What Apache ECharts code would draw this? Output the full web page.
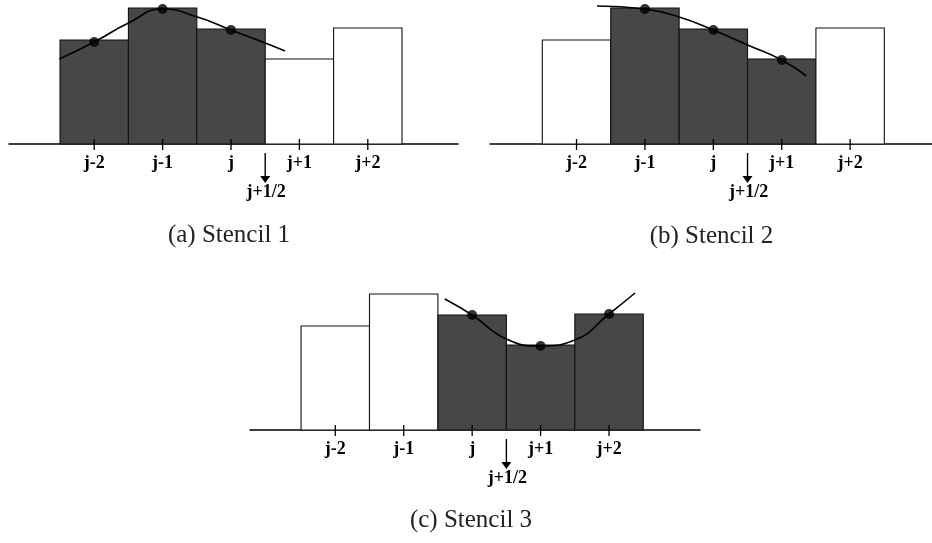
<!DOCTYPE html>
<html>
<head>
<meta charset="utf-8">
<script src="https://cdn.jsdelivr.net/npm/echarts@6/dist/echarts.min.js"></script>
<style>
html,body{margin:0;padding:0;background:#fff;}
#main{width:932px;height:543px;}
</style>
</head>
<body>
<div id="main"></div>
<script>
// ---------- data ----------
const categories = ['j-2', 'j-1', 'j', 'j+1', 'j+2'];
const cellPositions = [-2, -1, 0, 1, 2];
const cellValues = [104, 136, 115, 85, 116];
const stencilA = [-2, -1, 0];
const stencilB = [-1, 0, 1];
const stencilC = [0, 1, 2];
const interfacePos = 0.5;
const interfaceLabel = 'j+1/2';
const captions = ['(a) Stencil 1', '(b) Stencil 2', '(c) Stencil 3'];

// reconstruction curves [x, value]
const curveA = [[-2.51, 85], [-2, 102], [-1.5, 121], [-1, 135], [-0.49, 127], [0, 114], [0.5, 101], [0.79, 93]];
const curveB = [[-1.70, 138], [-1, 135], [-0.5, 127], [0, 114], [0.5, 99], [1, 84], [1.36, 68]];
const curveC = [[-0.40, 131], [0, 115], [0.5, 91], [1, 84], [1.5, 90], [2, 116], [2.38, 137]];
const dotsA = [[-2, 102], [-1, 135], [0, 114]];
const dotsB = [[-1, 135], [0, 114], [1, 84]];
const dotsC = [[0, 115], [1, 84], [2, 116]];

// ---------- helpers ----------
const DARK = '#474747';
const FONT = 'Liberation Serif';

function cellData(stencil) {
  return cellPositions.map((p, i) => [p, cellValues[i], stencil.indexOf(p) >= 0 ? 1 : 0]);
}

function barSeries(idx, stencil) {
  return {
    type: 'custom', xAxisIndex: idx, yAxisIndex: idx, z: 2,
    data: cellData(stencil),
    renderItem: function (params, api) {
      const x = api.value(0), v = api.value(1), s = api.value(2);
      const p0 = api.coord([x - 0.5, v]);
      const p1 = api.coord([x + 0.5, 0]);
      return {
        type: 'rect',
        shape: { x: p0[0], y: p0[1], width: p1[0] - p0[0], height: p1[1] - p0[1] },
        style: { fill: s ? DARK : '#ffffff', stroke: '#111', lineWidth: 1.1 }
      };
    }
  };
}

function tickSeries(idx) {
  return {
    type: 'custom', xAxisIndex: idx, yAxisIndex: idx, z: 4,
    data: cellPositions.map(p => [p, 0]),
    renderItem: function (params, api) {
      const c = api.coord([api.value(0), 0]);
      return {
        type: 'group',
        children: [
          { type: 'line', shape: { x1: c[0], y1: c[1] - 5, x2: c[0], y2: c[1] + 6 },
            style: { stroke: '#000', lineWidth: 1.3 } },
          { type: 'text', x: c[0], y: c[1] + 19,
            style: { text: categories[params.dataIndex], align: 'center', verticalAlign: 'middle',
                     fontFamily: FONT, fontWeight: 'bold', fontSize: 18, fill: '#000' } }
        ]
      };
    }
  };
}

function arrowSeries(idx) {
  return {
    type: 'custom', xAxisIndex: idx, yAxisIndex: idx, z: 4,
    data: [[interfacePos, 0]],
    renderItem: function (params, api) {
      const c = api.coord([api.value(0), 0]);
      return {
        type: 'group',
        children: [
          { type: 'line', shape: { x1: c[0], y1: c[1] + 9, x2: c[0], y2: c[1] + 33 },
            style: { stroke: '#000', lineWidth: 1.4 } },
          { type: 'polygon', shape: { points: [[c[0] - 5, c[1] + 32], [c[0] + 5, c[1] + 32], [c[0], c[1] + 39]] },
            style: { fill: '#000' } },
          { type: 'text', x: c[0] + 1, y: c[1] + 48,
            style: { text: interfaceLabel, align: 'center', verticalAlign: 'middle',
                     fontFamily: FONT, fontWeight: 'bold', fontSize: 18, fill: '#000' } }
        ]
      };
    }
  };
}

function curveSeries(idx, pts) {
  return {
    type: 'line', xAxisIndex: idx, yAxisIndex: idx, z: 5, data: pts,
    smooth: 0.5, showSymbol: false, clip: false, silent: true,
    lineStyle: { color: '#000', width: 1.6 }
  };
}

function dotSeries(idx, pts) {
  return {
    type: 'scatter', xAxisIndex: idx, yAxisIndex: idx, z: 6, data: pts,
    symbolSize: 10, clip: false, silent: true,
    itemStyle: { color: '#000' }
  };
}

function xAxisDef(idx, min, max) {
  return {
    type: 'value', gridIndex: idx, min: min, max: max,
    axisLine: { show: true, onZero: false, lineStyle: { color: '#000', width: 1.5 } },
    axisTick: { show: false }, axisLabel: { show: false }, splitLine: { show: false }
  };
}
function yAxisDef(idx) {
  return { type: 'value', gridIndex: idx, min: 0, max: 140, show: false };
}

const chart = echarts.init(document.getElementById('main'), null, { renderer: 'canvas' });
chart.setOption({
  backgroundColor: '#ffffff',
  animation: false,
  grid: [
    { left: 9, top: 4, width: 449, height: 140 },
    { left: 490, top: 4, width: 442, height: 140 },
    { left: 250, top: 290, width: 450, height: 140 }
  ],
  xAxis: [xAxisDef(0, -3.246, 3.319), xAxisDef(1, -3.265, 3.197), xAxisDef(2, -3.246, 3.329)],
  yAxis: [yAxisDef(0), yAxisDef(1), yAxisDef(2)],
  graphic: [
    { type: 'text', x: 229, y: 235, style: { text: captions[0], align: 'center', verticalAlign: 'middle', fontFamily: FONT, fontSize: 25, fill: '#222' } },
    { type: 'text', x: 711.5, y: 236.5, style: { text: captions[1], align: 'center', verticalAlign: 'middle', fontFamily: FONT, fontSize: 25, fill: '#222' } },
    { type: 'text', x: 471, y: 520, style: { text: captions[2], align: 'center', verticalAlign: 'middle', fontFamily: FONT, fontSize: 25, fill: '#222' } }
  ],
  series: [
    barSeries(0, stencilA), tickSeries(0), arrowSeries(0), curveSeries(0, curveA), dotSeries(0, dotsA),
    barSeries(1, stencilB), tickSeries(1), arrowSeries(1), curveSeries(1, curveB), dotSeries(1, dotsB),
    barSeries(2, stencilC), tickSeries(2), arrowSeries(2), curveSeries(2, curveC), dotSeries(2, dotsC)
  ]
});
</script>
</body>
</html>
